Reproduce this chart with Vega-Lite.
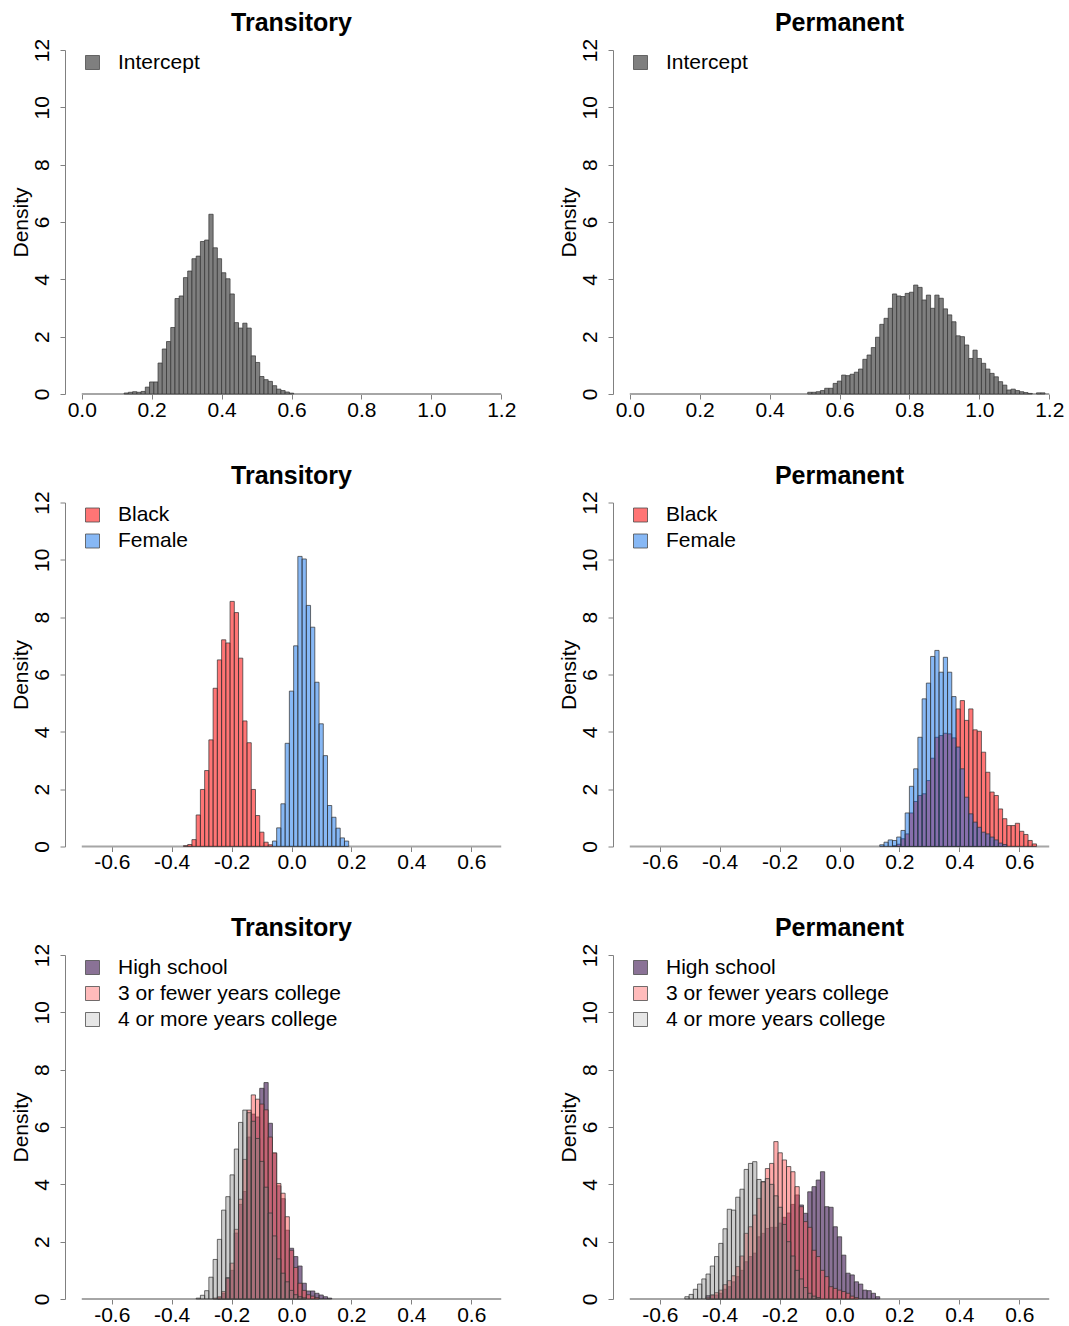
{
  "$schema": "https://vega.github.io/schema/vega-lite/v6.json",
  "background": "white",
  "padding": {"left": 10, "top": 11, "right": 0, "bottom": 0},
  "bounds": "flush",
  "columns": 2,
  "spacing": {"row": 108.5, "column": 95},
  "config": {
    "view": {"stroke": null},
    "font": "Liberation Sans",
    "axis": {
      "grid": false,
      "labelFont": "Liberation Sans",
      "labelFontSize": 21,
      "labelColor": "#000000",
      "titleFont": "Liberation Sans",
      "titleFontSize": 21,
      "titleFontWeight": "normal",
      "titleColor": "#000000",
      "tickColor": "#808080",
      "domainColor": "#808080",
      "tickSize": 5,
      "labelOverlap": false,
      "labelFlush": false
    },
    "axisX": {"domain": false, "labelAngle": 0, "labelBaseline": "alphabetic", "labelPadding": 17},
    "axisY": {
      "labelAngle": 270,
      "labelAlign": "center",
      "labelBaseline": "alphabetic",
      "labelPadding": 12,
      "titleAngle": 270,
      "titleAlign": "center",
      "titleBaseline": "alphabetic",
      "titleX": -38,
      "titleY": 172
    },
    "legend": {
      "title": null,
      "labelFont": "Liberation Sans",
      "labelFontSize": 21,
      "labelColor": "#000000",
      "symbolType": "square",
      "symbolSize": 196,
      "symbolStrokeColor": "#4d4d4d",
      "symbolStrokeWidth": 0.8,
      "labelOffset": 15,
      "rowPadding": 4,
      "padding": 0,
      "offset": 0,
      "labelLimit": 400
    },
    "title": {
      "font": "Liberation Sans",
      "fontSize": 25,
      "fontWeight": "bold",
      "color": "#000000",
      "anchor": "middle",
      "frame": "group",
      "baseline": "alphabetic",
      "offset": 2
    }
  },
  "datasets": {
    "t_int": [
      {"g":"Intercept","lo":0.1212,"hi":0.1333,"d":0.035},{"g":"Intercept","lo":0.1333,"hi":0.1455,"d":0.06},{"g":"Intercept","lo":0.1455,"hi":0.1576,"d":0.08},{"g":"Intercept","lo":0.1576,"hi":0.1697,"d":0.06},{"g":"Intercept","lo":0.1697,"hi":0.1818,"d":0.09},{"g":"Intercept","lo":0.1818,"hi":0.1939,"d":0.24},{"g":"Intercept","lo":0.1939,"hi":0.2061,"d":0.42},{"g":"Intercept","lo":0.2061,"hi":0.2182,"d":0.42},{"g":"Intercept","lo":0.2182,"hi":0.2303,"d":1.08},{"g":"Intercept","lo":0.2303,"hi":0.2424,"d":1.57},{"g":"Intercept","lo":0.2424,"hi":0.2545,"d":1.83},{"g":"Intercept","lo":0.2545,"hi":0.2667,"d":2.32},{"g":"Intercept","lo":0.2667,"hi":0.2788,"d":3.33},{"g":"Intercept","lo":0.2788,"hi":0.2909,"d":3.42},{"g":"Intercept","lo":0.2909,"hi":0.303,"d":4.06},{"g":"Intercept","lo":0.303,"hi":0.3152,"d":4.29},{"g":"Intercept","lo":0.3152,"hi":0.3273,"d":4.72},{"g":"Intercept","lo":0.3273,"hi":0.3394,"d":4.81},{"g":"Intercept","lo":0.3394,"hi":0.3515,"d":5.32},{"g":"Intercept","lo":0.3515,"hi":0.3636,"d":5.37},{"g":"Intercept","lo":0.3636,"hi":0.3758,"d":6.27},{"g":"Intercept","lo":0.3758,"hi":0.3879,"d":5.1},{"g":"Intercept","lo":0.3879,"hi":0.4,"d":4.72},{"g":"Intercept","lo":0.4,"hi":0.4121,"d":4.23},{"g":"Intercept","lo":0.4121,"hi":0.4242,"d":4.02},{"g":"Intercept","lo":0.4242,"hi":0.4364,"d":3.49},{"g":"Intercept","lo":0.4364,"hi":0.4485,"d":2.49},{"g":"Intercept","lo":0.4485,"hi":0.4606,"d":2.3},{"g":"Intercept","lo":0.4606,"hi":0.4727,"d":2.47},{"g":"Intercept","lo":0.4727,"hi":0.4848,"d":2.3},{"g":"Intercept","lo":0.4848,"hi":0.497,"d":1.33},{"g":"Intercept","lo":0.497,"hi":0.5091,"d":1.1},{"g":"Intercept","lo":0.5091,"hi":0.5212,"d":0.61},{"g":"Intercept","lo":0.5212,"hi":0.5333,"d":0.5},{"g":"Intercept","lo":0.5333,"hi":0.5455,"d":0.44},{"g":"Intercept","lo":0.5455,"hi":0.5576,"d":0.29},{"g":"Intercept","lo":0.5576,"hi":0.5697,"d":0.17},{"g":"Intercept","lo":0.5697,"hi":0.5818,"d":0.12},{"g":"Intercept","lo":0.5818,"hi":0.5939,"d":0.07},{"g":"Intercept","lo":0.5939,"hi":0.6061,"d":0.03}
    ],
    "p_int": [
      {"g":"Intercept","lo":0.5091,"hi":0.5212,"d":0.06},{"g":"Intercept","lo":0.5212,"hi":0.5333,"d":0.06},{"g":"Intercept","lo":0.5333,"hi":0.5455,"d":0.08},{"g":"Intercept","lo":0.5455,"hi":0.5576,"d":0.12},{"g":"Intercept","lo":0.5576,"hi":0.5697,"d":0.2},{"g":"Intercept","lo":0.5697,"hi":0.5818,"d":0.2},{"g":"Intercept","lo":0.5818,"hi":0.5939,"d":0.37},{"g":"Intercept","lo":0.5939,"hi":0.6061,"d":0.45},{"g":"Intercept","lo":0.6061,"hi":0.6182,"d":0.66},{"g":"Intercept","lo":0.6182,"hi":0.6303,"d":0.64},{"g":"Intercept","lo":0.6303,"hi":0.6424,"d":0.69},{"g":"Intercept","lo":0.6424,"hi":0.6545,"d":0.76},{"g":"Intercept","lo":0.6545,"hi":0.6667,"d":0.87},{"g":"Intercept","lo":0.6667,"hi":0.6788,"d":1.21},{"g":"Intercept","lo":0.6788,"hi":0.6909,"d":1.36},{"g":"Intercept","lo":0.6909,"hi":0.703,"d":1.62},{"g":"Intercept","lo":0.703,"hi":0.7152,"d":1.98},{"g":"Intercept","lo":0.7152,"hi":0.7273,"d":2.43},{"g":"Intercept","lo":0.7273,"hi":0.7394,"d":2.64},{"g":"Intercept","lo":0.7394,"hi":0.7515,"d":2.99},{"g":"Intercept","lo":0.7515,"hi":0.7636,"d":3.49},{"g":"Intercept","lo":0.7636,"hi":0.7758,"d":3.42},{"g":"Intercept","lo":0.7758,"hi":0.7879,"d":3.4},{"g":"Intercept","lo":0.7879,"hi":0.8,"d":3.51},{"g":"Intercept","lo":0.8,"hi":0.8121,"d":3.55},{"g":"Intercept","lo":0.8121,"hi":0.8242,"d":3.8},{"g":"Intercept","lo":0.8242,"hi":0.8364,"d":3.72},{"g":"Intercept","lo":0.8364,"hi":0.8485,"d":3.28},{"g":"Intercept","lo":0.8485,"hi":0.8606,"d":3.45},{"g":"Intercept","lo":0.8606,"hi":0.8727,"d":2.99},{"g":"Intercept","lo":0.8727,"hi":0.8848,"d":3.45},{"g":"Intercept","lo":0.8848,"hi":0.897,"d":3.34},{"g":"Intercept","lo":0.897,"hi":0.9091,"d":2.97},{"g":"Intercept","lo":0.9091,"hi":0.9212,"d":2.76},{"g":"Intercept","lo":0.9212,"hi":0.9333,"d":2.52},{"g":"Intercept","lo":0.9333,"hi":0.9455,"d":2.03},{"g":"Intercept","lo":0.9455,"hi":0.9576,"d":2.0},{"g":"Intercept","lo":0.9576,"hi":0.9697,"d":1.71},{"g":"Intercept","lo":0.9697,"hi":0.9818,"d":1.24},{"g":"Intercept","lo":0.9818,"hi":0.9939,"d":1.53},{"g":"Intercept","lo":0.9939,"hi":1.0061,"d":1.24},{"g":"Intercept","lo":1.0061,"hi":1.0182,"d":1.07},{"g":"Intercept","lo":1.0182,"hi":1.0303,"d":0.87},{"g":"Intercept","lo":1.0303,"hi":1.0424,"d":0.72},{"g":"Intercept","lo":1.0424,"hi":1.0545,"d":0.6},{"g":"Intercept","lo":1.0545,"hi":1.0667,"d":0.43},{"g":"Intercept","lo":1.0667,"hi":1.0788,"d":0.31},{"g":"Intercept","lo":1.0788,"hi":1.0909,"d":0.14},{"g":"Intercept","lo":1.0909,"hi":1.103,"d":0.17},{"g":"Intercept","lo":1.103,"hi":1.1152,"d":0.12},{"g":"Intercept","lo":1.1152,"hi":1.1273,"d":0.08},{"g":"Intercept","lo":1.1273,"hi":1.1394,"d":0.05},{"g":"Intercept","lo":1.1394,"hi":1.1515,"d":0.02},{"g":"Intercept","lo":1.1636,"hi":1.1758,"d":0.04},{"g":"Intercept","lo":1.1758,"hi":1.1879,"d":0.04}
    ],
    "t_bf": [
      {"g":"Black","lo":-0.3606,"hi":-0.3465,"d":0.03},{"g":"Black","lo":-0.3465,"hi":-0.3323,"d":0.07},{"g":"Black","lo":-0.3323,"hi":-0.3182,"d":0.24},{"g":"Black","lo":-0.3182,"hi":-0.304,"d":1.1},{"g":"Black","lo":-0.304,"hi":-0.2899,"d":1.99},{"g":"Black","lo":-0.2899,"hi":-0.2758,"d":2.65},{"g":"Black","lo":-0.2758,"hi":-0.2616,"d":3.72},{"g":"Black","lo":-0.2616,"hi":-0.2475,"d":5.52},{"g":"Black","lo":-0.2475,"hi":-0.2333,"d":6.51},{"g":"Black","lo":-0.2333,"hi":-0.2192,"d":7.21},{"g":"Black","lo":-0.2192,"hi":-0.2051,"d":7.1},{"g":"Black","lo":-0.2051,"hi":-0.1909,"d":8.55},{"g":"Black","lo":-0.1909,"hi":-0.1768,"d":8.16},{"g":"Black","lo":-0.1768,"hi":-0.1626,"d":6.57},{"g":"Black","lo":-0.1626,"hi":-0.1485,"d":4.38},{"g":"Black","lo":-0.1485,"hi":-0.1343,"d":3.62},{"g":"Black","lo":-0.1343,"hi":-0.1202,"d":1.99},{"g":"Black","lo":-0.1202,"hi":-0.1061,"d":1.08},{"g":"Black","lo":-0.1061,"hi":-0.0919,"d":0.5},{"g":"Black","lo":-0.0919,"hi":-0.0778,"d":0.15},{"g":"Black","lo":-0.0778,"hi":-0.0636,"d":0.06},
      {"g":"Female","lo":-0.0636,"hi":-0.0495,"d":0.19},{"g":"Female","lo":-0.0495,"hi":-0.0354,"d":0.65},{"g":"Female","lo":-0.0354,"hi":-0.0212,"d":1.49},{"g":"Female","lo":-0.0212,"hi":-0.0071,"d":3.6},{"g":"Female","lo":-0.0071,"hi":0.0071,"d":5.42},{"g":"Female","lo":0.0071,"hi":0.0212,"d":7.0},{"g":"Female","lo":0.0212,"hi":0.0354,"d":10.12},{"g":"Female","lo":0.0354,"hi":0.0495,"d":10.03},{"g":"Female","lo":0.0495,"hi":0.0636,"d":8.41},{"g":"Female","lo":0.0636,"hi":0.0778,"d":7.65},{"g":"Female","lo":0.0778,"hi":0.0919,"d":5.73},{"g":"Female","lo":0.0919,"hi":0.1061,"d":4.28},{"g":"Female","lo":0.1061,"hi":0.1202,"d":3.17},{"g":"Female","lo":0.1202,"hi":0.1343,"d":1.43},{"g":"Female","lo":0.1343,"hi":0.1485,"d":1.02},{"g":"Female","lo":0.1485,"hi":0.1626,"d":0.64},{"g":"Female","lo":0.1626,"hi":0.1768,"d":0.3},{"g":"Female","lo":0.1768,"hi":0.1909,"d":0.19}
    ],
    "p_bf": [
      {"g":"Black","lo":0.1768,"hi":0.1909,"d":0.03},{"g":"Black","lo":0.1909,"hi":0.2051,"d":0.08},{"g":"Black","lo":0.2051,"hi":0.2192,"d":0.27},{"g":"Black","lo":0.2192,"hi":0.2333,"d":0.44},{"g":"Black","lo":0.2333,"hi":0.2475,"d":1.17},{"g":"Black","lo":0.2475,"hi":0.2616,"d":1.57},{"g":"Black","lo":0.2616,"hi":0.2758,"d":1.78},{"g":"Black","lo":0.2758,"hi":0.2899,"d":1.84},{"g":"Black","lo":0.2899,"hi":0.304,"d":2.3},{"g":"Black","lo":0.304,"hi":0.3182,"d":3.08},{"g":"Black","lo":0.3182,"hi":0.3323,"d":3.81},{"g":"Black","lo":0.3323,"hi":0.3465,"d":3.87},{"g":"Black","lo":0.3465,"hi":0.3606,"d":3.95},{"g":"Black","lo":0.3606,"hi":0.3747,"d":3.93},{"g":"Black","lo":0.3747,"hi":0.3889,"d":3.79},{"g":"Black","lo":0.3889,"hi":0.403,"d":4.8},{"g":"Black","lo":0.403,"hi":0.4172,"d":5.09},{"g":"Black","lo":0.4172,"hi":0.4313,"d":4.4},{"g":"Black","lo":0.4313,"hi":0.4455,"d":4.8},{"g":"Black","lo":0.4455,"hi":0.4596,"d":4.07},{"g":"Black","lo":0.4596,"hi":0.4737,"d":4.02},{"g":"Black","lo":0.4737,"hi":0.4879,"d":3.29},{"g":"Black","lo":0.4879,"hi":0.502,"d":2.59},{"g":"Black","lo":0.502,"hi":0.5162,"d":1.9},{"g":"Black","lo":0.5162,"hi":0.5303,"d":1.78},{"g":"Black","lo":0.5303,"hi":0.5444,"d":1.31},{"g":"Black","lo":0.5444,"hi":0.5586,"d":0.97},{"g":"Black","lo":0.5586,"hi":0.5727,"d":0.73},{"g":"Black","lo":0.5727,"hi":0.5869,"d":0.73},{"g":"Black","lo":0.5869,"hi":0.601,"d":0.81},{"g":"Black","lo":0.601,"hi":0.6152,"d":0.53},{"g":"Black","lo":0.6152,"hi":0.6293,"d":0.42},{"g":"Black","lo":0.6293,"hi":0.6434,"d":0.21},{"g":"Black","lo":0.6434,"hi":0.6576,"d":0.09},
      {"g":"Female","lo":0.1343,"hi":0.1485,"d":0.06},{"g":"Female","lo":0.1485,"hi":0.1626,"d":0.15},{"g":"Female","lo":0.1626,"hi":0.1768,"d":0.23},{"g":"Female","lo":0.1768,"hi":0.1909,"d":0.21},{"g":"Female","lo":0.1909,"hi":0.2051,"d":0.33},{"g":"Female","lo":0.2051,"hi":0.2192,"d":0.56},{"g":"Female","lo":0.2192,"hi":0.2333,"d":1.17},{"g":"Female","lo":0.2333,"hi":0.2475,"d":2.1},{"g":"Female","lo":0.2475,"hi":0.2616,"d":2.71},{"g":"Female","lo":0.2616,"hi":0.2758,"d":3.81},{"g":"Female","lo":0.2758,"hi":0.2899,"d":5.15},{"g":"Female","lo":0.2899,"hi":0.304,"d":5.7},{"g":"Female","lo":0.304,"hi":0.3182,"d":6.63},{"g":"Female","lo":0.3182,"hi":0.3323,"d":6.84},{"g":"Female","lo":0.3323,"hi":0.3465,"d":6.08},{"g":"Female","lo":0.3465,"hi":0.3606,"d":6.6},{"g":"Female","lo":0.3606,"hi":0.3747,"d":6.08},{"g":"Female","lo":0.3747,"hi":0.3889,"d":5.23},{"g":"Female","lo":0.3889,"hi":0.403,"d":3.47},{"g":"Female","lo":0.403,"hi":0.4172,"d":2.71},{"g":"Female","lo":0.4172,"hi":0.4313,"d":1.72},{"g":"Female","lo":0.4313,"hi":0.4455,"d":1.14},{"g":"Female","lo":0.4455,"hi":0.4596,"d":0.85},{"g":"Female","lo":0.4596,"hi":0.4737,"d":0.67},{"g":"Female","lo":0.4737,"hi":0.4879,"d":0.5},{"g":"Female","lo":0.4879,"hi":0.502,"d":0.44},{"g":"Female","lo":0.502,"hi":0.5162,"d":0.33},{"g":"Female","lo":0.5162,"hi":0.5303,"d":0.23},{"g":"Female","lo":0.5303,"hi":0.5444,"d":0.12},{"g":"Female","lo":0.5444,"hi":0.5586,"d":0.07}
    ],
    "t_edu": [
      {"g":"High school","lo":-0.2475,"hi":-0.2333,"d":0.05},{"g":"High school","lo":-0.2333,"hi":-0.2192,"d":0.2},{"g":"High school","lo":-0.2192,"hi":-0.2051,"d":0.75},{"g":"High school","lo":-0.2051,"hi":-0.1909,"d":1.0},{"g":"High school","lo":-0.1909,"hi":-0.1768,"d":2.3},{"g":"High school","lo":-0.1768,"hi":-0.1626,"d":3.3},{"g":"High school","lo":-0.1626,"hi":-0.1485,"d":3.75},{"g":"High school","lo":-0.1485,"hi":-0.1343,"d":5.65},{"g":"High school","lo":-0.1343,"hi":-0.1202,"d":6.45},{"g":"High school","lo":-0.1202,"hi":-0.1061,"d":6.35},{"g":"High school","lo":-0.1061,"hi":-0.0919,"d":7.35},{"g":"High school","lo":-0.0919,"hi":-0.0778,"d":7.55},{"g":"High school","lo":-0.0778,"hi":-0.0636,"d":6.13},{"g":"High school","lo":-0.0636,"hi":-0.0495,"d":5.08},{"g":"High school","lo":-0.0495,"hi":-0.0354,"d":3.95},{"g":"High school","lo":-0.0354,"hi":-0.0212,"d":3.5},{"g":"High school","lo":-0.0212,"hi":-0.0071,"d":2.4},{"g":"High school","lo":-0.0071,"hi":0.0071,"d":1.77},{"g":"High school","lo":0.0071,"hi":0.0212,"d":1.48},{"g":"High school","lo":0.0212,"hi":0.0354,"d":1.15},{"g":"High school","lo":0.0354,"hi":0.0495,"d":0.55},{"g":"High school","lo":0.0495,"hi":0.0636,"d":0.28},{"g":"High school","lo":0.0636,"hi":0.0778,"d":0.28},{"g":"High school","lo":0.0778,"hi":0.0919,"d":0.2},{"g":"High school","lo":0.0919,"hi":0.1061,"d":0.14},{"g":"High school","lo":0.1061,"hi":0.1202,"d":0.08},{"g":"High school","lo":0.1202,"hi":0.1343,"d":0.03},
      {"g":"3 or fewer years college","lo":-0.2616,"hi":-0.2475,"d":0.03},{"g":"3 or fewer years college","lo":-0.2475,"hi":-0.2333,"d":0.08},{"g":"3 or fewer years college","lo":-0.2333,"hi":-0.2192,"d":0.26},{"g":"3 or fewer years college","lo":-0.2192,"hi":-0.2051,"d":0.72},{"g":"3 or fewer years college","lo":-0.2051,"hi":-0.1909,"d":1.25},{"g":"3 or fewer years college","lo":-0.1909,"hi":-0.1768,"d":2.43},{"g":"3 or fewer years college","lo":-0.1768,"hi":-0.1626,"d":3.48},{"g":"3 or fewer years college","lo":-0.1626,"hi":-0.1485,"d":4.87},{"g":"3 or fewer years college","lo":-0.1485,"hi":-0.1343,"d":6.59},{"g":"3 or fewer years college","lo":-0.1343,"hi":-0.1202,"d":7.12},{"g":"3 or fewer years college","lo":-0.1202,"hi":-0.1061,"d":6.97},{"g":"3 or fewer years college","lo":-0.1061,"hi":-0.0919,"d":6.8},{"g":"3 or fewer years college","lo":-0.0919,"hi":-0.0778,"d":6.6},{"g":"3 or fewer years college","lo":-0.0778,"hi":-0.0636,"d":5.65},{"g":"3 or fewer years college","lo":-0.0636,"hi":-0.0495,"d":5.1},{"g":"3 or fewer years college","lo":-0.0495,"hi":-0.0354,"d":4.03},{"g":"3 or fewer years college","lo":-0.0354,"hi":-0.0212,"d":3.69},{"g":"3 or fewer years college","lo":-0.0212,"hi":-0.0071,"d":2.87},{"g":"3 or fewer years college","lo":-0.0071,"hi":0.0071,"d":1.7},{"g":"3 or fewer years college","lo":0.0071,"hi":0.0212,"d":1.1},{"g":"3 or fewer years college","lo":0.0212,"hi":0.0354,"d":0.55},{"g":"3 or fewer years college","lo":0.0354,"hi":0.0495,"d":0.3},{"g":"3 or fewer years college","lo":0.0495,"hi":0.0636,"d":0.15},{"g":"3 or fewer years college","lo":0.0636,"hi":0.0778,"d":0.1},{"g":"3 or fewer years college","lo":0.0778,"hi":0.0919,"d":0.05},
      {"g":"4 or more years college","lo":-0.3182,"hi":-0.304,"d":0.03},{"g":"4 or more years college","lo":-0.304,"hi":-0.2899,"d":0.13},{"g":"4 or more years college","lo":-0.2899,"hi":-0.2758,"d":0.29},{"g":"4 or more years college","lo":-0.2758,"hi":-0.2616,"d":0.76},{"g":"4 or more years college","lo":-0.2616,"hi":-0.2475,"d":1.38},{"g":"4 or more years college","lo":-0.2475,"hi":-0.2333,"d":2.08},{"g":"4 or more years college","lo":-0.2333,"hi":-0.2192,"d":3.1},{"g":"4 or more years college","lo":-0.2192,"hi":-0.2051,"d":3.57},{"g":"4 or more years college","lo":-0.2051,"hi":-0.1909,"d":4.33},{"g":"4 or more years college","lo":-0.1909,"hi":-0.1768,"d":5.23},{"g":"4 or more years college","lo":-0.1768,"hi":-0.1626,"d":6.16},{"g":"4 or more years college","lo":-0.1626,"hi":-0.1485,"d":6.59},{"g":"4 or more years college","lo":-0.1485,"hi":-0.1343,"d":6.5},{"g":"4 or more years college","lo":-0.1343,"hi":-0.1202,"d":6.2},{"g":"4 or more years college","lo":-0.1202,"hi":-0.1061,"d":5.6},{"g":"4 or more years college","lo":-0.1061,"hi":-0.0919,"d":4.8},{"g":"4 or more years college","lo":-0.0919,"hi":-0.0778,"d":3.9},{"g":"4 or more years college","lo":-0.0778,"hi":-0.0636,"d":3.0},{"g":"4 or more years college","lo":-0.0636,"hi":-0.0495,"d":2.2},{"g":"4 or more years college","lo":-0.0495,"hi":-0.0354,"d":1.4},{"g":"4 or more years college","lo":-0.0354,"hi":-0.0212,"d":0.9},{"g":"4 or more years college","lo":-0.0212,"hi":-0.0071,"d":0.6},{"g":"4 or more years college","lo":-0.0071,"hi":0.0071,"d":0.3},{"g":"4 or more years college","lo":0.0071,"hi":0.0212,"d":0.15},{"g":"4 or more years college","lo":0.0212,"hi":0.0354,"d":0.08},{"g":"4 or more years college","lo":0.0354,"hi":0.0495,"d":0.04}
    ],
    "p_edu": [
      {"g":"High school","lo":-0.4455,"hi":-0.4313,"d":0.12},{"g":"High school","lo":-0.4313,"hi":-0.4172,"d":0.14},{"g":"High school","lo":-0.4172,"hi":-0.403,"d":0.14},{"g":"High school","lo":-0.403,"hi":-0.3889,"d":0.2},{"g":"High school","lo":-0.3889,"hi":-0.3747,"d":0.34},{"g":"High school","lo":-0.3747,"hi":-0.3606,"d":0.43},{"g":"High school","lo":-0.3606,"hi":-0.3465,"d":0.6},{"g":"High school","lo":-0.3465,"hi":-0.3323,"d":0.78},{"g":"High school","lo":-0.3323,"hi":-0.3182,"d":1.0},{"g":"High school","lo":-0.3182,"hi":-0.304,"d":1.3},{"g":"High school","lo":-0.304,"hi":-0.2899,"d":1.48},{"g":"High school","lo":-0.2899,"hi":-0.2758,"d":1.6},{"g":"High school","lo":-0.2758,"hi":-0.2616,"d":2.17},{"g":"High school","lo":-0.2616,"hi":-0.2475,"d":2.29},{"g":"High school","lo":-0.2475,"hi":-0.2333,"d":2.46},{"g":"High school","lo":-0.2333,"hi":-0.2192,"d":2.5},{"g":"High school","lo":-0.2192,"hi":-0.2051,"d":2.5},{"g":"High school","lo":-0.2051,"hi":-0.1909,"d":2.65},{"g":"High school","lo":-0.1909,"hi":-0.1768,"d":2.85},{"g":"High school","lo":-0.1768,"hi":-0.1626,"d":3.0},{"g":"High school","lo":-0.1626,"hi":-0.1485,"d":3.3},{"g":"High school","lo":-0.1485,"hi":-0.1343,"d":3.63},{"g":"High school","lo":-0.1343,"hi":-0.1202,"d":3.28},{"g":"High school","lo":-0.1202,"hi":-0.1061,"d":2.99},{"g":"High school","lo":-0.1061,"hi":-0.0919,"d":3.74},{"g":"High school","lo":-0.0919,"hi":-0.0778,"d":3.92},{"g":"High school","lo":-0.0778,"hi":-0.0636,"d":4.15},{"g":"High school","lo":-0.0636,"hi":-0.0495,"d":4.44},{"g":"High school","lo":-0.0495,"hi":-0.0354,"d":3.22},{"g":"High school","lo":-0.0354,"hi":-0.0212,"d":3.2},{"g":"High school","lo":-0.0212,"hi":-0.0071,"d":2.52},{"g":"High school","lo":-0.0071,"hi":0.0071,"d":2.17},{"g":"High school","lo":0.0071,"hi":0.0212,"d":1.53},{"g":"High school","lo":0.0212,"hi":0.0354,"d":0.9},{"g":"High school","lo":0.0354,"hi":0.0495,"d":0.84},{"g":"High school","lo":0.0495,"hi":0.0636,"d":0.6},{"g":"High school","lo":0.0636,"hi":0.0778,"d":0.52},{"g":"High school","lo":0.0778,"hi":0.0919,"d":0.31},{"g":"High school","lo":0.0919,"hi":0.1061,"d":0.29},{"g":"High school","lo":0.1061,"hi":0.1202,"d":0.2},{"g":"High school","lo":0.1202,"hi":0.1343,"d":0.08},
      {"g":"3 or fewer years college","lo":-0.4455,"hi":-0.4313,"d":0.06},{"g":"3 or fewer years college","lo":-0.4313,"hi":-0.4172,"d":0.14},{"g":"3 or fewer years college","lo":-0.4172,"hi":-0.403,"d":0.22},{"g":"3 or fewer years college","lo":-0.403,"hi":-0.3889,"d":0.31},{"g":"3 or fewer years college","lo":-0.3889,"hi":-0.3747,"d":0.5},{"g":"3 or fewer years college","lo":-0.3747,"hi":-0.3606,"d":0.64},{"g":"3 or fewer years college","lo":-0.3606,"hi":-0.3465,"d":0.81},{"g":"3 or fewer years college","lo":-0.3465,"hi":-0.3323,"d":1.13},{"g":"3 or fewer years college","lo":-0.3323,"hi":-0.3182,"d":1.5},{"g":"3 or fewer years college","lo":-0.3182,"hi":-0.304,"d":2.29},{"g":"3 or fewer years college","lo":-0.304,"hi":-0.2899,"d":2.52},{"g":"3 or fewer years college","lo":-0.2899,"hi":-0.2758,"d":2.93},{"g":"3 or fewer years college","lo":-0.2758,"hi":-0.2616,"d":3.51},{"g":"3 or fewer years college","lo":-0.2616,"hi":-0.2475,"d":4.09},{"g":"3 or fewer years college","lo":-0.2475,"hi":-0.2333,"d":4.55},{"g":"3 or fewer years college","lo":-0.2333,"hi":-0.2192,"d":4.73},{"g":"3 or fewer years college","lo":-0.2192,"hi":-0.2051,"d":5.49},{"g":"3 or fewer years college","lo":-0.2051,"hi":-0.1909,"d":5.1},{"g":"3 or fewer years college","lo":-0.1909,"hi":-0.1768,"d":4.85},{"g":"3 or fewer years college","lo":-0.1768,"hi":-0.1626,"d":4.62},{"g":"3 or fewer years college","lo":-0.1626,"hi":-0.1485,"d":4.44},{"g":"3 or fewer years college","lo":-0.1485,"hi":-0.1343,"d":3.92},{"g":"3 or fewer years college","lo":-0.1343,"hi":-0.1202,"d":3.22},{"g":"3 or fewer years college","lo":-0.1202,"hi":-0.1061,"d":2.7},{"g":"3 or fewer years college","lo":-0.1061,"hi":-0.0919,"d":2.5},{"g":"3 or fewer years college","lo":-0.0919,"hi":-0.0778,"d":1.7},{"g":"3 or fewer years college","lo":-0.0778,"hi":-0.0636,"d":1.48},{"g":"3 or fewer years college","lo":-0.0636,"hi":-0.0495,"d":1.0},{"g":"3 or fewer years college","lo":-0.0495,"hi":-0.0354,"d":0.78},{"g":"3 or fewer years college","lo":-0.0354,"hi":-0.0212,"d":0.43},{"g":"3 or fewer years college","lo":-0.0212,"hi":-0.0071,"d":0.37},{"g":"3 or fewer years college","lo":-0.0071,"hi":0.0071,"d":0.31},{"g":"3 or fewer years college","lo":0.0071,"hi":0.0212,"d":0.26},{"g":"3 or fewer years college","lo":0.0212,"hi":0.0354,"d":0.2},{"g":"3 or fewer years college","lo":0.0354,"hi":0.0495,"d":0.1},{"g":"3 or fewer years college","lo":0.0495,"hi":0.0636,"d":0.05},
      {"g":"4 or more years college","lo":-0.5162,"hi":-0.502,"d":0.08},{"g":"4 or more years college","lo":-0.502,"hi":-0.4879,"d":0.16},{"g":"4 or more years college","lo":-0.4879,"hi":-0.4737,"d":0.34},{"g":"4 or more years college","lo":-0.4737,"hi":-0.4596,"d":0.52},{"g":"4 or more years college","lo":-0.4596,"hi":-0.4455,"d":0.7},{"g":"4 or more years college","lo":-0.4455,"hi":-0.4313,"d":0.87},{"g":"4 or more years college","lo":-0.4313,"hi":-0.4172,"d":1.15},{"g":"4 or more years college","lo":-0.4172,"hi":-0.403,"d":1.48},{"g":"4 or more years college","lo":-0.403,"hi":-0.3889,"d":1.94},{"g":"4 or more years college","lo":-0.3889,"hi":-0.3747,"d":2.45},{"g":"4 or more years college","lo":-0.3747,"hi":-0.3606,"d":3.13},{"g":"4 or more years college","lo":-0.3606,"hi":-0.3465,"d":3.1},{"g":"4 or more years college","lo":-0.3465,"hi":-0.3323,"d":3.55},{"g":"4 or more years college","lo":-0.3323,"hi":-0.3182,"d":3.83},{"g":"4 or more years college","lo":-0.3182,"hi":-0.304,"d":4.52},{"g":"4 or more years college","lo":-0.304,"hi":-0.2899,"d":4.73},{"g":"4 or more years college","lo":-0.2899,"hi":-0.2758,"d":4.79},{"g":"4 or more years college","lo":-0.2758,"hi":-0.2616,"d":4.17},{"g":"4 or more years college","lo":-0.2616,"hi":-0.2475,"d":4.09},{"g":"4 or more years college","lo":-0.2475,"hi":-0.2333,"d":4.2},{"g":"4 or more years college","lo":-0.2333,"hi":-0.2192,"d":4.0},{"g":"4 or more years college","lo":-0.2192,"hi":-0.2051,"d":3.6},{"g":"4 or more years college","lo":-0.2051,"hi":-0.1909,"d":3.2},{"g":"4 or more years college","lo":-0.1909,"hi":-0.1768,"d":2.6},{"g":"4 or more years college","lo":-0.1768,"hi":-0.1626,"d":2.0},{"g":"4 or more years college","lo":-0.1626,"hi":-0.1485,"d":1.5},{"g":"4 or more years college","lo":-0.1485,"hi":-0.1343,"d":1.0},{"g":"4 or more years college","lo":-0.1343,"hi":-0.1202,"d":0.7},{"g":"4 or more years college","lo":-0.1202,"hi":-0.1061,"d":0.4},{"g":"4 or more years college","lo":-0.1061,"hi":-0.0919,"d":0.2},{"g":"4 or more years college","lo":-0.0919,"hi":-0.0778,"d":0.1},{"g":"4 or more years college","lo":-0.0778,"hi":-0.0636,"d":0.05}
    ]
  },
  "resolve": {
    "scale": {"color": "independent", "fillOpacity": "independent", "x": "independent", "y": "independent"},
    "legend": {"color": "independent", "fillOpacity": "independent"}
  },
  "concat": [
    {
      "width": 453, "height": 344,
      "title": "Transitory",
      "encoding": {
        "x": {"field": "lo", "type": "quantitative", "scale": {"domain": [-0.048, 1.248], "nice": false, "zero": false},
              "axis": {"values": [0, 0.2, 0.4, 0.6, 0.8, 1, 1.2], "title": null, "labelExpr": "replace(format(datum.value, '.1f'), '\u2212', '-')"}},
        "x2": {"field": "hi"}
      },
      "layer": [
        {"data": {"values": [{"lo": 0, "hi": 1.2}]},
         "mark": {"type": "rule", "color": "#a6a6a6", "strokeWidth": 2},
         "encoding": {"y": {"datum": 0, "type": "quantitative", "scale": {"domain": [0, 12], "nice": false, "zero": false}, "axis": {"values": [0, 2, 4, 6, 8, 10, 12], "title": "Density"}}}},
        {"data": {"name": "t_int"},
         "mark": {"type": "rect", "stroke": "#333333", "strokeWidth": 0.8, "strokeOpacity": 0.9},
         "encoding": {
           "y": {"field": "d", "type": "quantitative", "scale": {"domain": [0, 12], "nice": false, "zero": false}, "axis": {"values": [0, 2, 4, 6, 8, 10, 12], "title": "Density"}},
           "y2": {"datum": 0},
           "color": {"field": "g", "type": "nominal", "scale": {"domain": ["Intercept"], "range": ["#7f7f7f"]}, "legend": {"orient": "none", "legendX": 17, "legendY": 2, "direction": "vertical"}},
           "fillOpacity": {"field": "g", "type": "nominal", "scale": {"domain": ["Intercept"], "range": [1]}, "legend": null}
         }}
      ]
    },
    {
      "width": 453, "height": 344,
      "title": "Permanent",
      "encoding": {
        "x": {"field": "lo", "type": "quantitative", "scale": {"domain": [-0.048, 1.248], "nice": false, "zero": false},
              "axis": {"values": [0, 0.2, 0.4, 0.6, 0.8, 1, 1.2], "title": null, "labelExpr": "replace(format(datum.value, '.1f'), '\u2212', '-')"}},
        "x2": {"field": "hi"}
      },
      "layer": [
        {"data": {"values": [{"lo": 0, "hi": 1.2}]},
         "mark": {"type": "rule", "color": "#a6a6a6", "strokeWidth": 2},
         "encoding": {"y": {"datum": 0, "type": "quantitative", "scale": {"domain": [0, 12], "nice": false, "zero": false}, "axis": {"values": [0, 2, 4, 6, 8, 10, 12], "title": "Density"}}}},
        {"data": {"name": "p_int"},
         "mark": {"type": "rect", "stroke": "#333333", "strokeWidth": 0.8, "strokeOpacity": 0.9},
         "encoding": {
           "y": {"field": "d", "type": "quantitative", "scale": {"domain": [0, 12], "nice": false, "zero": false}, "axis": {"values": [0, 2, 4, 6, 8, 10, 12], "title": "Density"}},
           "y2": {"datum": 0},
           "color": {"field": "g", "type": "nominal", "scale": {"domain": ["Intercept"], "range": ["#7f7f7f"]}, "legend": {"orient": "none", "legendX": 17, "legendY": 2, "direction": "vertical"}},
           "fillOpacity": {"field": "g", "type": "nominal", "scale": {"domain": ["Intercept"], "range": [1]}, "legend": null}
         }}
      ]
    },
    {
      "width": 453, "height": 344,
      "title": "Transitory",
      "encoding": {
        "x": {"field": "lo", "type": "quantitative", "scale": {"domain": [-0.756, 0.756], "nice": false, "zero": false},
              "axis": {"values": [-0.6, -0.4, -0.2, 0, 0.2, 0.4, 0.6], "title": null, "labelExpr": "replace(format(datum.value, '.1f'), '\u2212', '-')"}},
        "x2": {"field": "hi"}
      },
      "layer": [
        {"data": {"values": [{"lo": -0.7, "hi": 0.7}]},
         "mark": {"type": "rule", "color": "#a6a6a6", "strokeWidth": 2},
         "encoding": {"y": {"datum": 0, "type": "quantitative", "scale": {"domain": [0, 12], "nice": false, "zero": false}, "axis": {"values": [0, 2, 4, 6, 8, 10, 12], "title": "Density"}}}},
        {"data": {"name": "t_bf"},
         "mark": {"type": "rect", "stroke": "#333333", "strokeWidth": 0.8, "strokeOpacity": 0.9},
         "encoding": {
           "y": {"field": "d", "type": "quantitative", "scale": {"domain": [0, 12], "nice": false, "zero": false}, "axis": {"values": [0, 2, 4, 6, 8, 10, 12], "title": "Density"}},
           "y2": {"datum": 0},
           "color": {"field": "g", "type": "nominal", "scale": {"domain": ["Black", "Female"], "range": ["#ff0000", "#0068ea"]},
                     "legend": {"orient": "none", "legendX": 17, "legendY": 2, "direction": "vertical",
                                "encode": {"symbols": {"update": {"fillOpacity": {"signal": "datum.value === 'Black' ? 0.54 : 0.47"}}}}}},
           "fillOpacity": {"field": "g", "type": "nominal", "scale": {"domain": ["Black", "Female"], "range": [0.54, 0.47]}, "legend": null}
         }}
      ]
    },
    {
      "width": 453, "height": 344,
      "title": "Permanent",
      "encoding": {
        "x": {"field": "lo", "type": "quantitative", "scale": {"domain": [-0.756, 0.756], "nice": false, "zero": false},
              "axis": {"values": [-0.6, -0.4, -0.2, 0, 0.2, 0.4, 0.6], "title": null, "labelExpr": "replace(format(datum.value, '.1f'), '\u2212', '-')"}},
        "x2": {"field": "hi"}
      },
      "layer": [
        {"data": {"values": [{"lo": -0.7, "hi": 0.7}]},
         "mark": {"type": "rule", "color": "#a6a6a6", "strokeWidth": 2},
         "encoding": {"y": {"datum": 0, "type": "quantitative", "scale": {"domain": [0, 12], "nice": false, "zero": false}, "axis": {"values": [0, 2, 4, 6, 8, 10, 12], "title": "Density"}}}},
        {"data": {"name": "p_bf"},
         "mark": {"type": "rect", "stroke": "#333333", "strokeWidth": 0.8, "strokeOpacity": 0.9},
         "encoding": {
           "y": {"field": "d", "type": "quantitative", "scale": {"domain": [0, 12], "nice": false, "zero": false}, "axis": {"values": [0, 2, 4, 6, 8, 10, 12], "title": "Density"}},
           "y2": {"datum": 0},
           "color": {"field": "g", "type": "nominal", "scale": {"domain": ["Black", "Female"], "range": ["#ff0000", "#0068ea"]},
                     "legend": {"orient": "none", "legendX": 17, "legendY": 2, "direction": "vertical",
                                "encode": {"symbols": {"update": {"fillOpacity": {"signal": "datum.value === 'Black' ? 0.54 : 0.47"}}}}}},
           "fillOpacity": {"field": "g", "type": "nominal", "scale": {"domain": ["Black", "Female"], "range": [0.54, 0.47]}, "legend": null}
         }}
      ]
    },
    {
      "width": 453, "height": 344,
      "title": "Transitory",
      "encoding": {
        "x": {"field": "lo", "type": "quantitative", "scale": {"domain": [-0.756, 0.756], "nice": false, "zero": false},
              "axis": {"values": [-0.6, -0.4, -0.2, 0, 0.2, 0.4, 0.6], "title": null, "labelExpr": "replace(format(datum.value, '.1f'), '\u2212', '-')"}},
        "x2": {"field": "hi"}
      },
      "layer": [
        {"data": {"values": [{"lo": -0.7, "hi": 0.7}]},
         "mark": {"type": "rule", "color": "#a6a6a6", "strokeWidth": 2},
         "encoding": {"y": {"datum": 0, "type": "quantitative", "scale": {"domain": [0, 12], "nice": false, "zero": false}, "axis": {"values": [0, 2, 4, 6, 8, 10, 12], "title": "Density"}}}},
        {"data": {"name": "t_edu"},
         "mark": {"type": "rect", "stroke": "#333333", "strokeWidth": 0.8, "strokeOpacity": 0.9},
         "encoding": {
           "y": {"field": "d", "type": "quantitative", "scale": {"domain": [0, 12], "nice": false, "zero": false}, "axis": {"values": [0, 2, 4, 6, 8, 10, 12], "title": "Density"}},
           "y2": {"datum": 0},
           "color": {"field": "g", "type": "nominal", "scale": {"domain": ["High school", "3 or fewer years college", "4 or more years college"], "range": ["#3c1450", "#ff5555", "#808080"]},
                     "legend": {"orient": "none", "legendX": 17, "legendY": 2, "direction": "vertical",
                                "encode": {"symbols": {"update": {"fillOpacity": {"signal": "datum.value === 'High school' ? 0.6 : datum.value === '3 or fewer years college' ? 0.4 : 0.2"}}}}}},
           "fillOpacity": {"field": "g", "type": "nominal", "scale": {"domain": ["High school", "3 or fewer years college", "4 or more years college"], "range": [0.6, 0.4, 0.2]}, "legend": null}
         }}
      ]
    },
    {
      "width": 453, "height": 344,
      "title": "Permanent",
      "encoding": {
        "x": {"field": "lo", "type": "quantitative", "scale": {"domain": [-0.756, 0.756], "nice": false, "zero": false},
              "axis": {"values": [-0.6, -0.4, -0.2, 0, 0.2, 0.4, 0.6], "title": null, "labelExpr": "replace(format(datum.value, '.1f'), '\u2212', '-')"}},
        "x2": {"field": "hi"}
      },
      "layer": [
        {"data": {"values": [{"lo": -0.7, "hi": 0.7}]},
         "mark": {"type": "rule", "color": "#a6a6a6", "strokeWidth": 2},
         "encoding": {"y": {"datum": 0, "type": "quantitative", "scale": {"domain": [0, 12], "nice": false, "zero": false}, "axis": {"values": [0, 2, 4, 6, 8, 10, 12], "title": "Density"}}}},
        {"data": {"name": "p_edu"},
         "mark": {"type": "rect", "stroke": "#333333", "strokeWidth": 0.8, "strokeOpacity": 0.9},
         "encoding": {
           "y": {"field": "d", "type": "quantitative", "scale": {"domain": [0, 12], "nice": false, "zero": false}, "axis": {"values": [0, 2, 4, 6, 8, 10, 12], "title": "Density"}},
           "y2": {"datum": 0},
           "color": {"field": "g", "type": "nominal", "scale": {"domain": ["High school", "3 or fewer years college", "4 or more years college"], "range": ["#3c1450", "#ff5555", "#808080"]},
                     "legend": {"orient": "none", "legendX": 17, "legendY": 2, "direction": "vertical",
                                "encode": {"symbols": {"update": {"fillOpacity": {"signal": "datum.value === 'High school' ? 0.6 : datum.value === '3 or fewer years college' ? 0.4 : 0.2"}}}}}},
           "fillOpacity": {"field": "g", "type": "nominal", "scale": {"domain": ["High school", "3 or fewer years college", "4 or more years college"], "range": [0.6, 0.4, 0.2]}, "legend": null}
         }}
      ]
    }
  ]
}
